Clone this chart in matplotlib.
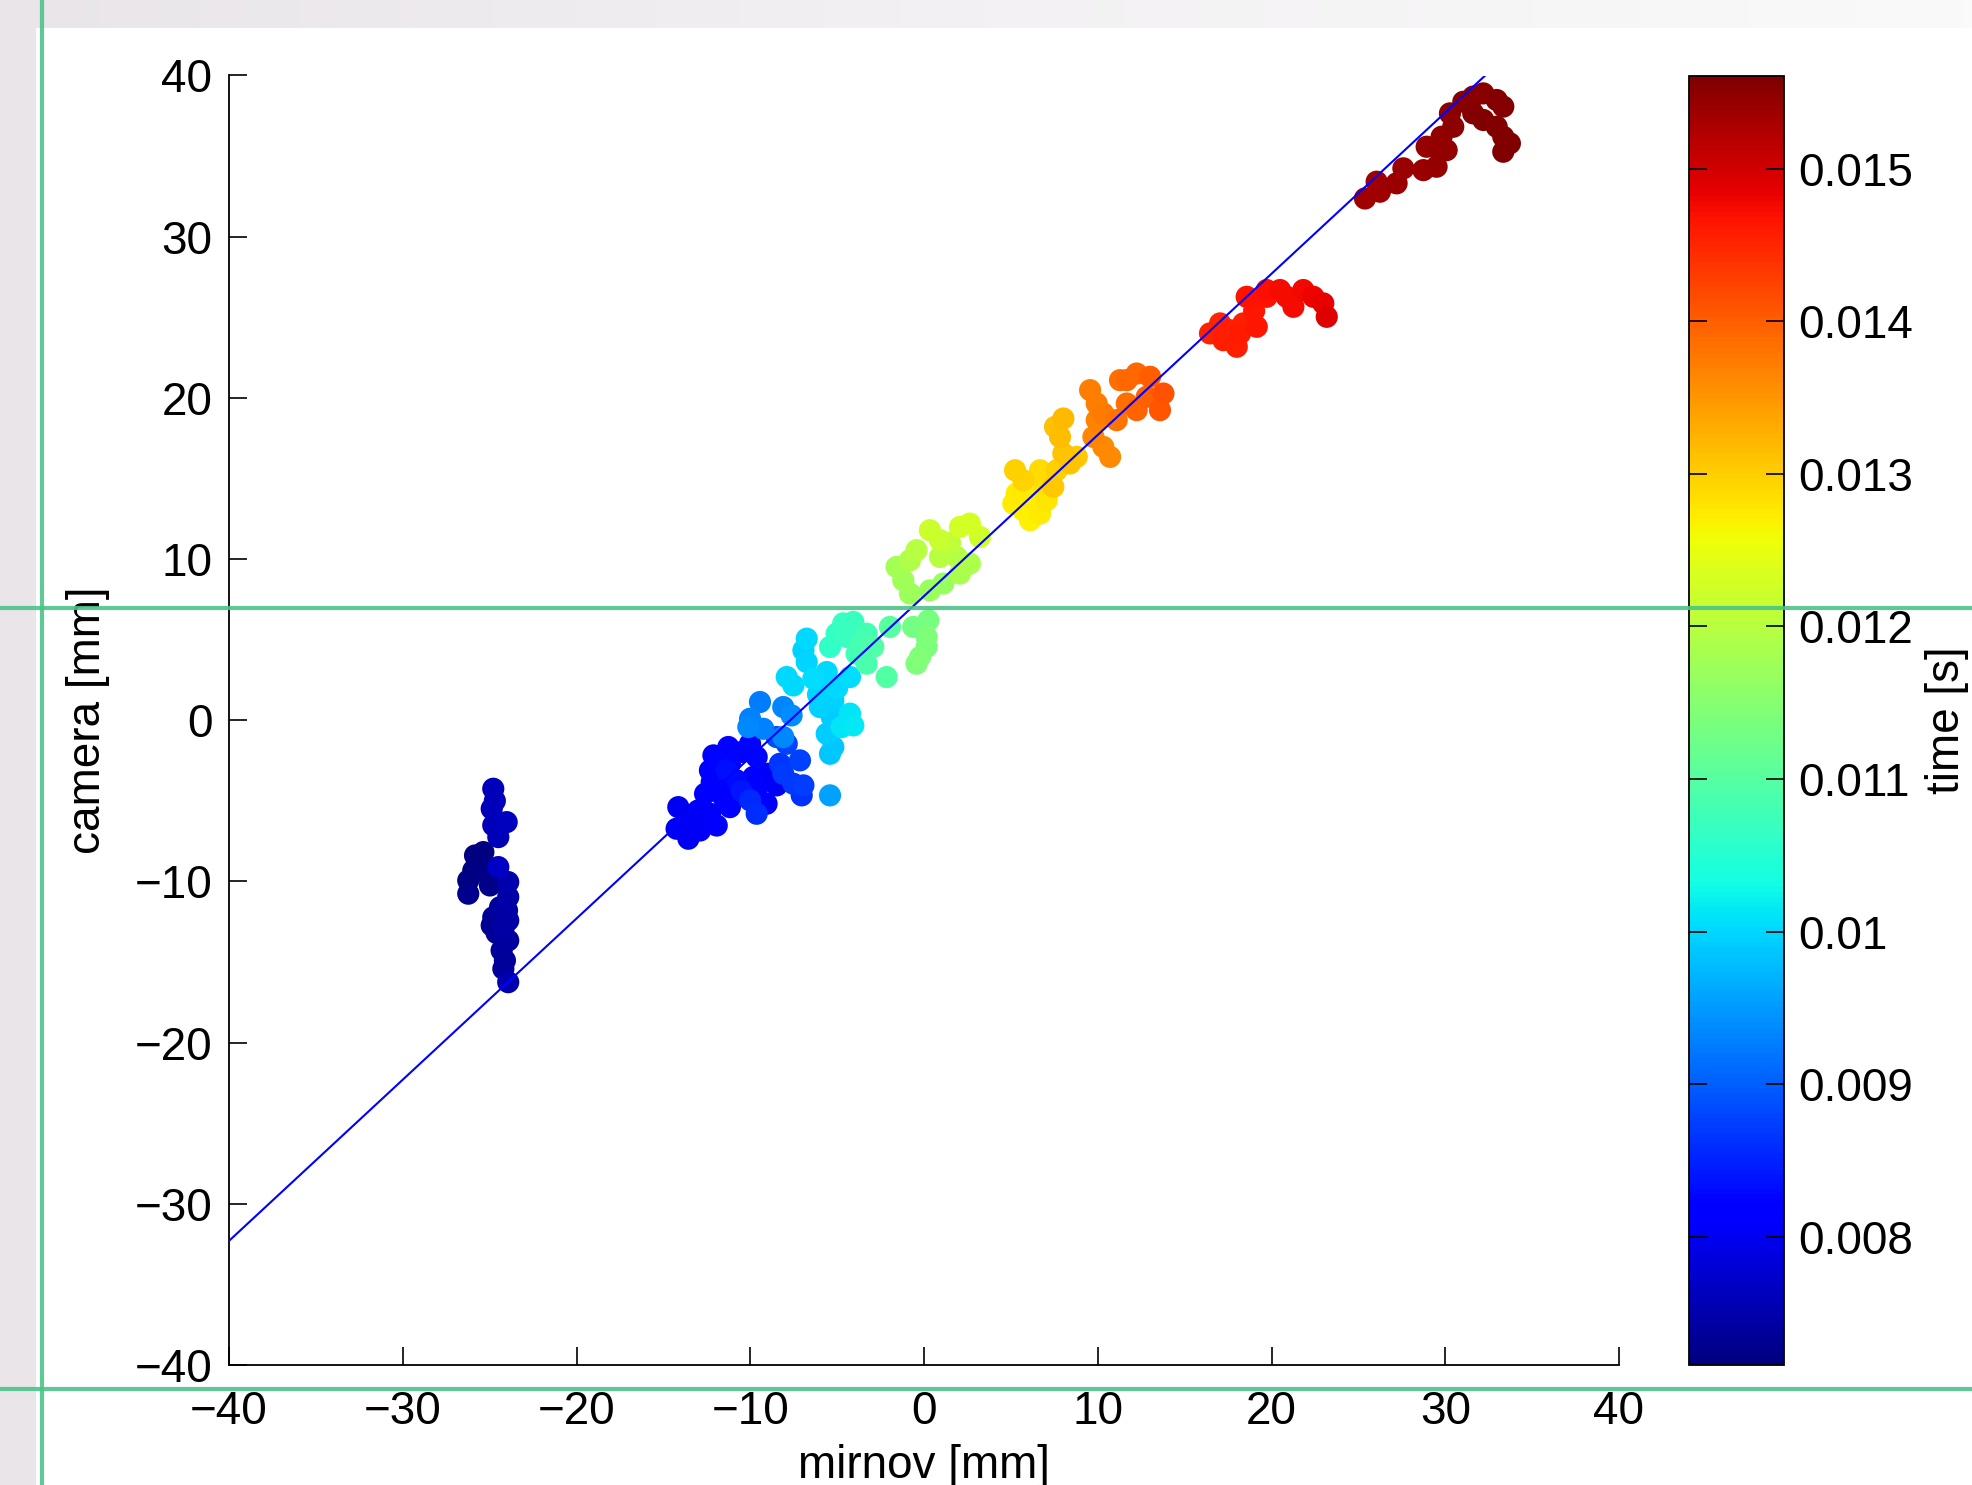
import numpy as np
import matplotlib
matplotlib.use("Agg")
import matplotlib.pyplot as plt
from matplotlib.lines import Line2D
from matplotlib.patches import Rectangle
from matplotlib.colors import LinearSegmentedColormap

# ---------------- data ----------------
mirnov_mm = [
    # dark blue segment
    -24.79, -24.88, -24.02, -24.79, -24.50, -25.36, -25.84, -24.50, -25.94, -26.23,
    -24.98, -23.93, -26.23, -23.93, -24.40, -24.79, -24.88, -23.93, -23.93, -24.31,
    -24.12, -24.21, -23.93, -24.60, -24.00, -25.50, -24.70, -25.10, -24.20,
    # blue segment
    -14.14, -14.24, -13.56, -13.66, -12.89, -11.93, -12.32, -11.17, -11.55, -12.60,
    -12.22, -12.32, -12.12, -11.26, -11.17, -10.49, -10.01, -9.63, -9.82, -9.63,
    -9.06, -8.48, -8.96, -10.78, -11.36, -11.93, -13.00, -10.50, -11.60, -12.90,
    -10.01, -9.63, -8.10, -8.29, -7.90, -8.48, -7.14, -7.52, -6.94, -7.04,
    -9.44, -10.01, -10.11, -9.25, -8.10, -7.62, -8.10, -5.41,
    # cyan segment
    -6.75, -6.94, -6.75, -7.90, -7.52, -6.37, -5.60, -5.79, -5.22, -5.99,
    -5.31, -5.60, -5.22, -5.41, -4.26, -4.26, -4.07, -4.74, -6.10, -5.00,
    # green segment
    -4.65, -4.07, -5.03, -4.45, -3.30, -5.41, -3.88, -2.92, -1.96, -2.15,
    -3.30, -0.62, 0.25, 0.15, 0.15, -0.23, -0.43, -3.60, -4.20,
    # yellow-green segment
    -1.19, -1.58, -0.81, 0.34, 1.11, -0.43, 0.34, 0.92, 2.07, 2.64,
    3.22, 1.88, 2.64, 2.07, 0.92, -0.81, 1.50,
    # yellow segment
    5.33, 5.14, 5.72, 6.10, 5.72, 5.24, 6.68, 6.87, 7.06, 6.68,
    7.44, 7.64, 8.40, 8.79, 8.02, 7.83, 7.54, 8.02, 6.20,
    # orange segment
    9.56, 9.94, 9.94, 9.75, 10.32, 10.71, 10.32, 11.09, 11.67, 11.67,
    12.24, 13.01, 12.82, 13.78, 13.58, 12.24, 11.28,
    # red segment
    16.46, 17.04, 17.23, 18.00, 18.19, 19.15, 18.38, 18.57, 19.72, 19.72,
    20.49, 21.26, 20.87, 21.83, 22.41, 22.98, 23.18, 17.60, 19.00,
    # dark red segment
    25.38, 26.24, 26.05, 27.20, 27.59, 28.74, 29.50, 29.70, 28.93, 30.08,
    29.79, 30.46, 30.27, 31.04, 31.61, 32.19, 32.96, 33.34, 31.61, 32.19,
    32.96, 33.34, 33.72, 33.34,
]

camera_mm = [
    -4.25, -5.49, -6.32, -6.52, -7.25, -8.18, -8.39, -9.11, -9.32, -9.94,
    -10.25, -10.04, -10.76, -10.97, -11.60, -12.22, -12.73, -12.42, -13.66, -14.28,
    -14.90, -15.42, -16.25, -13.20, -11.80, -9.00, -5.00, -9.60, -12.90,
    -5.39, -6.73, -7.35, -6.42, -6.84, -6.53, -5.80, -5.39, -4.77, -4.56,
    -3.84, -3.11, -2.18, -1.66, -2.70, -1.97, -1.46, -2.28, -3.52, -4.35,
    -5.18, -4.04, -3.32, -3.73, -3.11, -2.49, -5.60, -4.40, -4.00, -6.00,
    -4.97, -5.80, -3.32, -2.70, -1.46, -1.04, -2.49, -3.94, -4.04, -4.66,
    1.13, 0.09, -0.42, -0.53, 0.82, 0.30, -1.04, -4.66,
    5.06, 4.34, 3.61, 2.68, 2.16, 2.58, 2.99, 1.85, 1.23, 0.82,
    0.20, -0.84, -1.66, -2.08, 2.68, 0.41, -0.32, -0.42, 1.60, 2.00,
    6.01, 6.10, 5.37, 5.17, 5.37, 4.55, 4.13, 4.55, 5.79, 2.68,
    3.51, 5.79, 6.20, 5.17, 4.55, 3.92, 3.51, 4.70, 5.70,
    8.68, 9.51, 7.86, 8.06, 8.48, 10.55, 11.79, 11.17, 11.99, 12.20,
    11.37, 10.13, 9.72, 9.10, 10.13, 9.93, 11.00,
    14.06, 13.44, 13.03, 12.41, 14.89, 15.51, 15.51, 14.68, 13.65, 12.82,
    14.48, 15.51, 15.93, 16.34, 16.55, 17.58, 18.20, 18.72, 13.80,
    20.48, 19.65, 18.62, 17.58, 16.96, 16.34, 19.03, 18.62, 19.65, 21.10,
    21.51, 21.31, 20.07, 20.27, 19.24, 19.24, 21.10,
    24.00, 24.62, 23.58, 23.17, 24.00, 24.41, 24.62, 26.27, 26.69, 26.27,
    26.69, 25.65, 26.27, 26.69, 26.27, 25.86, 25.03, 24.20, 25.40,
    32.37, 32.79, 33.41, 33.31, 34.24, 34.13, 34.34, 35.27, 35.58, 35.37,
    36.20, 36.82, 37.65, 38.37, 38.69, 38.89, 38.48, 38.07, 37.65, 37.24,
    36.82, 36.20, 35.79, 35.27,
]

time_s = [
    0.00762, 0.00762, 0.00765, 0.00760, 0.00758, 0.00716, 0.00718, 0.00768, 0.00720, 0.00722,
    0.00724, 0.00750, 0.00726, 0.00748, 0.00742, 0.00735, 0.00732, 0.00745, 0.00740, 0.00737,
    0.00736, 0.00738, 0.00752, 0.00733, 0.00744, 0.00719, 0.00761, 0.00723, 0.00743,
    0.00800, 0.00802, 0.00800, 0.00805, 0.00803, 0.00810, 0.00808, 0.00812, 0.00806, 0.00815,
    0.00818, 0.00812, 0.00820, 0.00822, 0.00825, 0.00820, 0.00828, 0.00826, 0.00810, 0.00815,
    0.00820, 0.00808, 0.00805, 0.00830, 0.00832, 0.00828, 0.00804, 0.00840, 0.00816, 0.00801,
    0.00855, 0.00860, 0.00870, 0.00865, 0.00880, 0.00885, 0.00875, 0.00868, 0.00872, 0.00862,
    0.00925, 0.00930, 0.00935, 0.00928, 0.00932, 0.00938, 0.00935, 0.00955,
    0.01000, 0.00995, 0.00998, 0.01002, 0.01000, 0.01004, 0.01003, 0.00998, 0.00996, 0.00994,
    0.00990, 0.00992, 0.00988, 0.00985, 0.01005, 0.01010, 0.01015, 0.01012, 0.00997, 0.01001,
    0.01068, 0.01070, 0.01065, 0.01072, 0.01080, 0.01060, 0.01078, 0.01095, 0.01100, 0.01098,
    0.01088, 0.01130, 0.01135, 0.01140, 0.01138, 0.01142, 0.01140, 0.01085, 0.01066,
    0.01175, 0.01180, 0.01172, 0.01170, 0.01168, 0.01200, 0.01220, 0.01215, 0.01225, 0.01228,
    0.01222, 0.01195, 0.01190, 0.01185, 0.01200, 0.01190, 0.01205,
    0.01275, 0.01272, 0.01270, 0.01268, 0.01295, 0.01300, 0.01290, 0.01285, 0.01280, 0.01275,
    0.01305, 0.01300, 0.01308, 0.01305, 0.01310, 0.01315, 0.01312, 0.01318, 0.01273,
    0.01370, 0.01372, 0.01368, 0.01365, 0.01362, 0.01360, 0.01375, 0.01380, 0.01385, 0.01390,
    0.01392, 0.01400, 0.01398, 0.01410, 0.01408, 0.01395, 0.01385,
    0.01455, 0.01452, 0.01458, 0.01456, 0.01460, 0.01462, 0.01458, 0.01468, 0.01470, 0.01466,
    0.01472, 0.01475, 0.01474, 0.01476, 0.01480, 0.01485, 0.01490, 0.01457, 0.01463,
    0.01535, 0.01536, 0.01537, 0.01538, 0.01540, 0.01541, 0.01542, 0.01545, 0.01543, 0.01546,
    0.01547, 0.01548, 0.01550, 0.01552, 0.01553, 0.01554, 0.01555, 0.01556, 0.01557, 0.01558,
    0.01559, 0.01560, 0.01560, 0.01561,
]

# linear fit shown in the figure
fit_slope = 1.0
fit_intercept = 7.7

time_min, time_max = 0.00716, 0.01561
axis_ticks = [-40, -30, -20, -10, 0, 10, 20, 30, 40]
cbar_ticks = [0.008, 0.009, 0.010, 0.011, 0.012, 0.013, 0.014, 0.015]
cbar_labels = ['0.008', '0.009', '0.01', '0.011', '0.012', '0.013', '0.014', '0.015']

# ---------------- figure ----------------
plt.rcParams['font.family'] = ['Liberation Sans', 'DejaVu Sans']
W, H, DPI = 1972, 1485, 100
FS = 33
fig = plt.figure(figsize=(W / DPI, H / DPI), dpi=DPI, facecolor='white')

ax = fig.add_axes([229 / W, 1 - 1365 / H, 1390 / W, 1289.5 / H])
cax = fig.add_axes([1689 / W, 1 - 1365 / H, 95 / W, 1289.5 / H])

x = np.array(mirnov_mm)
y = np.array(camera_mm)
t = np.array(time_s)
order = np.argsort(t, kind='stable')

sc = ax.scatter(x[order], y[order], c=t[order], cmap='jet', vmin=time_min, vmax=time_max,
                s=255, edgecolors='none', zorder=2)

xf = np.array([-40.0, (40.0 - fit_intercept) / fit_slope])
ax.plot(xf, fit_slope * xf + fit_intercept, color='blue', lw=1.5, zorder=3)

ax.set_xlim(-40, 40)
ax.set_ylim(-40, 40)
ax.set_xticks(axis_ticks)
ax.set_yticks(axis_ticks)
for s in ['top', 'right']:
    ax.spines[s].set_visible(False)
for s in ['left', 'bottom']:
    ax.spines[s].set_linewidth(1.3)
ax.tick_params(direction='in', length=13, width=1.2, labelsize=FS, pad=12)
ax.tick_params(axis='x', pad=18)

ax.set_xlabel('mirnov [mm]', fontsize=FS)
ax.xaxis.label.set_va('center')
ax.xaxis.set_label_coords(0.5, -0.078)
ax.set_ylabel('camera [mm]', fontsize=FS)
ax.yaxis.label.set_va('center')
ax.yaxis.set_label_coords(-0.1014, 0.5)

cb = fig.colorbar(sc, cax=cax)
cb.set_ticks(cbar_ticks)
cb.set_ticklabels(cbar_labels)
cb.outline.set_linewidth(1.3)
cax.tick_params(direction='in', left=True, right=True, length=13, width=1.2,
                labelsize=FS, pad=10)
cax.set_ylabel('time [s]', fontsize=FS, rotation=90)
cax.yaxis.set_label_position('right')
cax.yaxis.label.set_va('center')
cax.yaxis.set_label_coords(2.72, 0.5)

# ---------------- screenshot frame artifacts ----------------
band = fig.add_axes([0, 1 - 28 / H, 1, 28 / H], zorder=5)
band.axis('off')
bcmap = LinearSegmentedColormap.from_list('band', ['#E9E5E9', '#F3F1F3', '#FAFAFA'])
band.imshow(np.linspace(0, 1, 256)[None, :], cmap=bcmap, aspect='auto',
            extent=[0, 1, 0, 1])
band.set_xlim(0, 1)
band.set_ylim(0, 1)
fig.add_artist(Rectangle((0, 0), 36 / W, 1, transform=fig.transFigure,
                         facecolor='#E9E5E9', edgecolor='none', zorder=4))

green = '#4DC38A'
fig.add_artist(Line2D([42 / W, 42 / W], [0, 1], transform=fig.transFigure,
                      color=green, lw=3, alpha=0.9, zorder=10))
for yy in [607.5, 1388.5]:
    fig.add_artist(Line2D([0, 1], [1 - yy / H, 1 - yy / H], transform=fig.transFigure,
                          color=green, lw=3, alpha=0.9, zorder=10))

fig.savefig('out.png', dpi=DPI, facecolor='white')
